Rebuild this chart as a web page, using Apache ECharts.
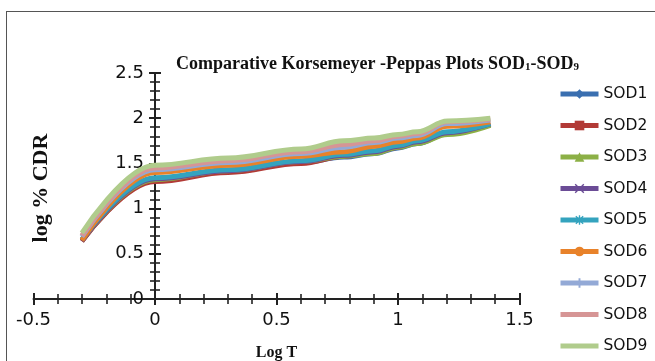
<!DOCTYPE html>
<html>
<head>
<meta charset="utf-8">
<script src="https://cdn.jsdelivr.net/npm/echarts@6/dist/echarts.min.js"></script>
<style>
  html, body { margin: 0; padding: 0; background: #fff; }
  #frame { position: absolute; left: 6px; top: 11px; width: 700px; height: 400px; border: 1.5px solid #555; box-sizing: border-box; }
  #chart { position: absolute; left: 0; top: 0; width: 655px; height: 361px; }
</style>
</head>
<body>
<div id="frame"></div>
<div id="chart"></div>
<script>
// log time points (x) and log cumulative % drug released for each formulation
const logT = [-0.301, 0, 0.301, 0.602, 0.778, 0.903, 1.000, 1.079, 1.204, 1.380];
const SOD1 = [0.64, 1.31, 1.41, 1.51, 1.57, 1.61, 1.67, 1.72, 1.83, 1.93];
const SOD2 = [0.64, 1.30, 1.40, 1.50, 1.58, 1.62, 1.68, 1.73, 1.83, 1.93];
const SOD3 = [0.65, 1.32, 1.42, 1.52, 1.58, 1.61, 1.68, 1.72, 1.82, 1.92];
const SOD4 = [0.65, 1.33, 1.42, 1.52, 1.59, 1.63, 1.69, 1.74, 1.84, 1.94];
const SOD5 = [0.66, 1.34, 1.43, 1.53, 1.60, 1.64, 1.70, 1.75, 1.85, 1.94];
const SOD6 = [0.65, 1.40, 1.48, 1.58, 1.63, 1.69, 1.74, 1.78, 1.91, 1.96];
const SOD7 = [0.69, 1.43, 1.51, 1.61, 1.68, 1.73, 1.78, 1.81, 1.94, 1.98];
const SOD8 = [0.70, 1.45, 1.53, 1.63, 1.71, 1.75, 1.80, 1.83, 1.96, 1.99];
const SOD9 = [0.73, 1.48, 1.56, 1.66, 1.75, 1.78, 1.82, 1.85, 1.97, 2.00];

const seriesNames = ['SOD1', 'SOD2', 'SOD3', 'SOD4', 'SOD5', 'SOD6', 'SOD7', 'SOD8', 'SOD9'];
const seriesValues = [SOD1, SOD2, SOD3, SOD4, SOD5, SOD6, SOD7, SOD8, SOD9];
const colors = ['#3a6fb0', '#b23a36', '#8cb046', '#6b4c96', '#34a3be', '#e8822a', '#93a9d6', '#d69595', '#b0cc8c'];

const xMark = 'path://M1,0 L5,4 L9,0 L10,1 L6,5 L10,9 L9,10 L5,6 L1,10 L0,9 L4,5 L0,1Z';
const plusMark = 'path://M4,0H6V4H10V6H6V10H4V6H0V4H4Z';
const starMark = 'path://M4.3,0H5.7V3.3L8.3,0.7L9.3,1.7L6.7,4.3H10V5.7H6.7L9.3,8.3L8.3,9.3L5.7,6.7V10H4.3V6.7L1.7,9.3L0.7,8.3L3.3,5.7H0V4.3H3.3L0.7,1.7L1.7,0.7L4.3,3.3Z';
const symbols = ['diamond', 'rect', 'triangle', xMark, starMark, 'circle', plusMark, 'none', 'none'];

const axisColor = '#222';
const tickFont = { fontFamily: 'DejaVu Sans', fontSize: 18, color: '#111' };

// the y axis sits at x = 0, i.e. 121.5px right of the grid's left edge
const yAxisShift = -121.5;

function xAx(inside, labels) {
  return {
    type: 'value', min: -0.5, max: 1.5, interval: 0.5, position: 'bottom',
    axisLine: { show: !inside, onZero: false, lineStyle: { color: axisColor, width: 2 } },
    axisTick: { show: true, inside: inside, length: 6, lineStyle: { color: axisColor, width: 2 } },
    minorTick: { show: true, splitNumber: 5, length: 5, lineStyle: { color: axisColor, width: 1.6 } },
    splitLine: { show: false }, minorSplitLine: { show: false },
    axisLabel: labels ? Object.assign({ margin: 12 }, tickFont) : { show: false },
    name: labels ? 'Log T' : '',
    nameLocation: 'middle', nameGap: 46,
    nameTextStyle: { fontFamily: 'Liberation Serif', fontWeight: 'bold', fontSize: 16, color: '#111' }
  };
}
function yAx(inside, labels) {
  return {
    type: 'value', min: 0, max: 2.5, interval: 0.5, position: 'left', offset: yAxisShift,
    axisLine: { show: !inside, onZero: false, lineStyle: { color: axisColor, width: 2 } },
    axisTick: { show: true, inside: inside, length: 6, lineStyle: { color: axisColor, width: 2 } },
    minorTick: { show: true, splitNumber: 5, length: 5, lineStyle: { color: axisColor, width: 1.6 } },
    splitLine: { show: false }, minorSplitLine: { show: false },
    axisLabel: labels ? Object.assign({ margin: 11 }, tickFont) : { show: false }
  };
}

const chart = echarts.init(document.getElementById('chart'), null, { renderer: 'canvas' });
chart.setOption({
  animation: false,
  backgroundColor: 'transparent',
  title: {
    text: 'Comparative Korsemeyer -Peppas Plots SOD{s|1}-SOD{s|9}',
    left: 171, top: 50,
    textStyle: {
      fontFamily: 'Liberation Serif', fontWeight: 'bold', fontSize: 18, color: '#111',
      rich: { s: { fontFamily: 'Liberation Serif', fontWeight: 'bold', fontSize: 11, color: '#111', verticalAlign: 'bottom', padding: [7, 0, 0, 0] } }
    }
  },
  graphic: [{
    type: 'text', x: 41, y: 188, rotation: Math.PI / 2,
    style: { text: 'log % CDR', fontFamily: 'Liberation Serif', fontWeight: 'bold', fontSize: 22, fill: '#111', align: 'center', verticalAlign: 'middle' }
  }],
  grid: { left: 33.5, top: 73, width: 486, height: 226, containLabel: false, outerBoundsMode: 'none' },
  xAxis: [xAx(false, true), xAx(true, false)],
  yAxis: [yAx(false, true), yAx(true, false)],
  legend: {
    orient: 'vertical', left: 558, top: 86, padding: 0,
    itemWidth: 38, itemHeight: 12, itemGap: 15.5,
    lineStyle: { width: 5 },
    textStyle: { fontFamily: 'DejaVu Sans', fontSize: 15.5, lineHeight: 16, color: '#111' },
    data: seriesNames.map((n, i) => i >= 7 ? { name: n, itemStyle: { opacity: 0 } } : { name: n })
  },
  series: seriesNames.map((name, i) => ({
    name: name,
    type: 'line',
    xAxisIndex: 0, yAxisIndex: 0,
    data: logT.map((x, k) => [x, seriesValues[i][k]]),
    smooth: 0.4,
    smoothMonotone: 'x',
    showSymbol: false,
    symbol: symbols[i],
    symbolSize: 10,
    color: colors[i],
    lineStyle: { width: 5, color: colors[i] },
    itemStyle: { color: colors[i] },
    emphasis: { disabled: true }
  }))
});
</script>
</body>
</html>
